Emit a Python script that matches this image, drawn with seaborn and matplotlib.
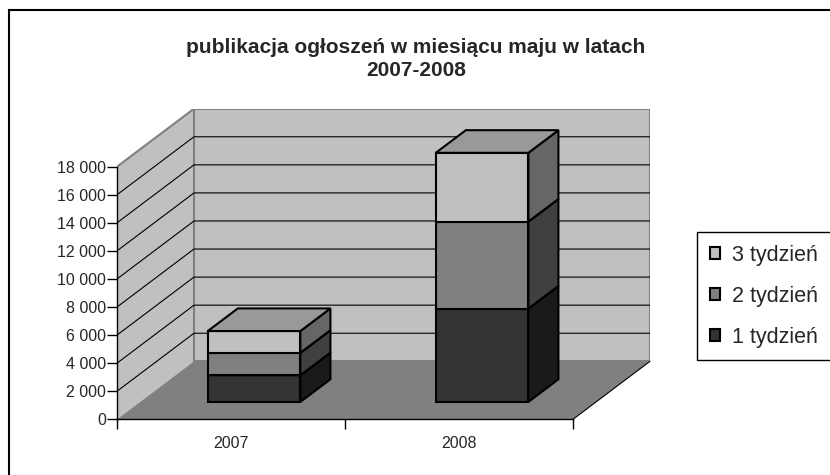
import numpy as np
import matplotlib.pyplot as plt
import seaborn as sns
from matplotlib.patches import Rectangle
from matplotlib.ticker import FuncFormatter

# ===================== dane =====================
years = ['2007', '2008']
weeks = ['1 tydzień', '2 tydzień', '3 tydzień']
week1 = [1900, 6650]
week2 = [1600, 6200]
week3 = [1550, 4900]
y_ticks = [0, 2000, 4000, 6000, 8000, 10000, 12000, 14000, 16000, 18000]
title = 'publikacja ogłoszeń w miesiącu maju w latach\n2007-2008'

# ===================== styl =====================
sns.set_style('white')
plt.rcParams['font.family'] = ['Liberation Sans', 'DejaVu Sans']

FRONT = ['#333333', '#808080', '#C0C0C0']
SIDE = ['#1A1A1A', '#404040', '#666666']
TOP = ['#262626', '#6E6E6E', '#999999']

# geometria "3D" (piksele)
W, H = 830, 475
X0_PX, Y0_PX = 117, 419.3          # przedni róg osi
SX = 228.0                          # px na kategorię
YMAX = 18000
SY = 252.6 / YMAX                   # px na jednostkę
DPX, DPY = 77, 58                   # głębokość ścian
DX, DY = DPX / SX, DPY / SY
F0, BD = 0.30, 0.39                 # położenie i głębokość słupków

fig = plt.figure(figsize=(W / 100, H / 100), dpi=100)
ax = fig.add_axes([X0_PX / W, (H - Y0_PX) / H, (2 * SX + DPX) / W, (YMAX * SY + DPY) / H])

# ściany i podłoga
ax.fill([-0.5, -0.5 + DX, -0.5 + DX, -0.5], [0, DY, YMAX + DY, YMAX],
        color='#C0C0C0', lw=0, zorder=1)
ax.fill([-0.5 + DX, 1.5 + DX, 1.5 + DX, -0.5 + DX], [DY, DY, YMAX + DY, YMAX + DY],
        facecolor='#C0C0C0', edgecolor='#808080', lw=1.5, zorder=1)
for v in y_ticks[1:-1]:
    ax.plot([-0.5, -0.5 + DX, 1.5 + DX], [v, v + DY, v + DY], color='black', lw=0.8, zorder=1.5)
ax.plot([-0.5, -0.5 + DX], [YMAX, YMAX + DY], color='#808080', lw=1.5, zorder=1.6)
ax.fill([-0.5, 1.5, 1.5 + DX, -0.5 + DX], [0, 0, DY, DY], color='#808080', lw=0, zorder=2)
ax.plot([1.5, 1.5 + DX], [0, DY], color='black', lw=0.8, zorder=2.1, clip_on=False)

# słupki skumulowane
cum = np.zeros(len(years))
for i, vals in enumerate([week1, week2, week3]):
    sns.barplot(x=years, y=vals, bottom=cum, color=FRONT[i], width=0.406, saturation=1,
                edgecolor='black', linewidth=1.5, errorbar=None, zorder=10 + 3 * i, ax=ax)
    bdx, bdy = BD * DX, BD * DY
    for p in ax.containers[-1]:
        p.set_x(p.get_x() + F0 * DX)
        p.set_y(p.get_y() + F0 * DY)
        xl, yb, w, h = p.get_x(), p.get_y(), p.get_width(), p.get_height()
        xr, yt = xl + w, yb + h
        ax.fill([xr, xr + bdx, xr + bdx, xr], [yb, yb + bdy, yt + bdy, yt],
                facecolor=SIDE[i], edgecolor='black', lw=1.5, zorder=10 + 3 * i + 1)
        ax.fill([xl, xr, xr + bdx, xl + bdx], [yt, yt, yt + bdy, yt + bdy],
                facecolor=TOP[i], edgecolor='black', lw=1.5, zorder=10 + 3 * i + 2)
    cum += np.array(vals)

ax.set_xlim(-0.5, 1.5 + DX)
ax.set_ylim(0, YMAX + DY)
ax.set_xlabel('')
ax.set_ylabel('')

for s in ['top', 'right']:
    ax.spines[s].set_visible(False)
ax.spines['left'].set_bounds(0, YMAX)
ax.spines['bottom'].set_bounds(-0.5, 1.5)
for s in ['left', 'bottom']:
    ax.spines[s].set_color('black')
    ax.spines[s].set_linewidth(1)

ax.set_yticks(y_ticks)
ax.yaxis.set_major_formatter(FuncFormatter(lambda v, _: f'{int(v):,}'.replace(',', ' ')))
ax.tick_params(axis='y', left=True, length=7, width=1, pad=1, labelsize=11.5, color='black')

ax.set_xticks([0, 1])
ax.set_xticklabels(years)
ax.set_xticks([-0.5, 0.5, 1.5], minor=True)
ax.tick_params(axis='x', which='major', bottom=True, length=0, pad=12, labelsize=11.5)
ax.tick_params(axis='x', which='minor', bottom=True, length=7, width=1, color='black')

# legenda
order = [2, 1, 0]
leg = fig.legend([ax.containers[i] for i in order], [weeks[i] for i in order],
                 loc='upper left', bbox_to_anchor=(696.7 / W, (H - 359) / H, 0.3, (359 - 232) / H),
                 mode='expand', borderaxespad=0, fontsize=15.5, frameon=True, fancybox=False,
                 edgecolor='black', framealpha=1, handlelength=0.47, handleheight=0.47,
                 handletextpad=0.55, labelspacing=0.92, borderpad=0.6)
leg.get_frame().set_linewidth(1.0)

# tytuł i ramka wykresu
fig.text(416 / W, 1 - 59 / H, title, ha='center', va='center', fontsize=15,
         fontweight='bold', linespacing=1.3)
fig.add_artist(Rectangle((9 / W, -0.1), 1.2, (H - 10) / H + 0.1, transform=fig.transFigure,
                         fill=False, edgecolor='black', lw=1.5))

fig.savefig('out.png', dpi=100)
